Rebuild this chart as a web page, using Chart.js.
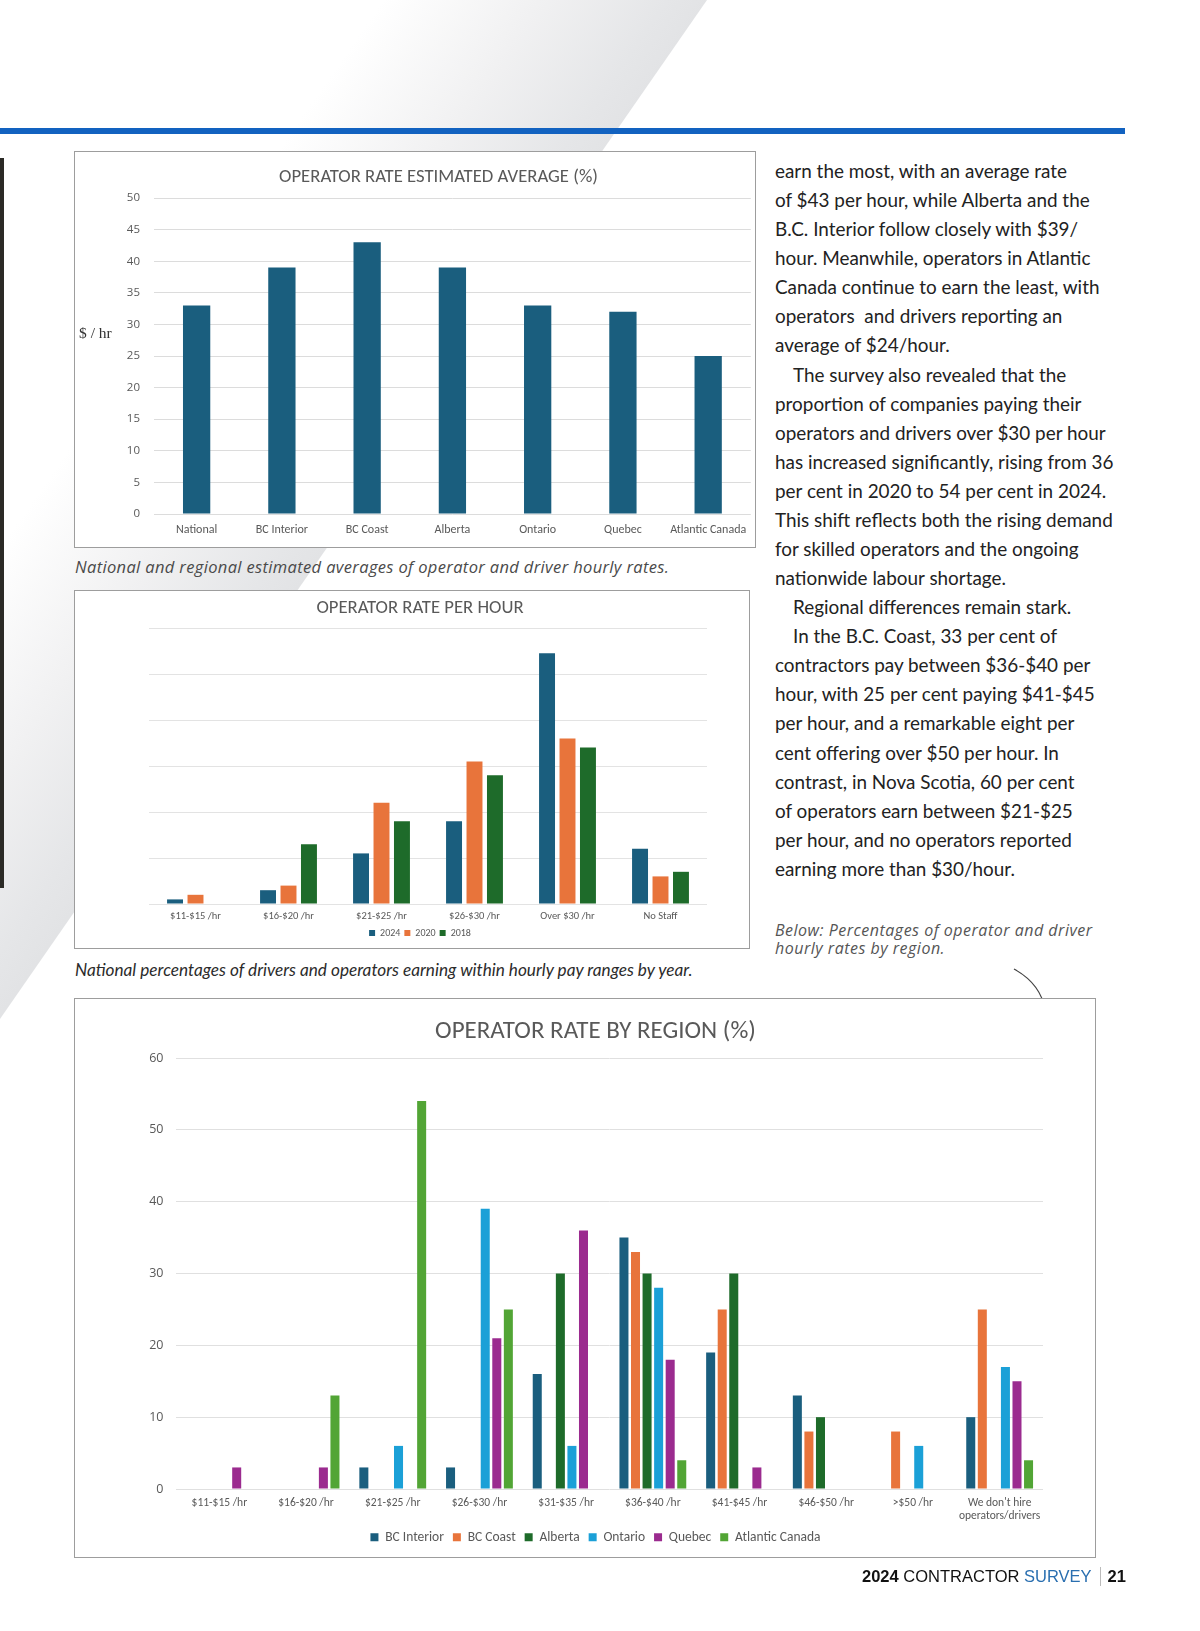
<!DOCTYPE html>
<html>
<head>
<meta charset="utf-8">
<title>2024 Contractor Survey - operator rates</title>
<script src="https://cdn.jsdelivr.net/npm/chart.js@4.4.1/dist/chart.umd.min.js"></script>
<style>
  html, body { margin: 0; padding: 0; }
  body { width: 1200px; height: 1631px; position: relative; overflow: hidden; background: #fff; font-family: Lato, 'Open Sans', sans-serif; }
  .band {
    position: absolute; left: 0; top: 0; width: 707px; height: 1019px;
    clip-path: polygon(0 0, 707px 0, 0 1019px);
    background: linear-gradient(125deg, #ffffff 0%, #ffffff 27%, #f1f1f2 38%, #e5e6e8 47%, #e2e3e5 50%);
  }
  .strip { position: absolute; left: 0; top: 158px; width: 4px; height: 730px; background: #2b2a26; }
  .rule { position: absolute; left: 0; top: 128px; width: 1125px; height: 6px; background: #1262c0; }
  .box { position: absolute; border: 1px solid #9d9d9d; background: #fff; box-sizing: border-box; }
  .box canvas { display: block; }
  #box1 { left: 74px; top: 151px; width: 682px; height: 397px; }
  #box2 { left: 74px; top: 590px; width: 676px; height: 359px; }
  #box3 { left: 74px; top: 998px; width: 1022px; height: 560px; }
  .unit { position: absolute; left: 79px; top: 324px; font-family: 'Liberation Serif', 'DejaVu Serif', serif; font-size: 15.5px; color: #333; }
  .cap { position: absolute; left: 75px; white-space: nowrap; font-style: italic; }
  .cap1 { top: 555px; font-family: 'Open Sans', sans-serif; font-size: 16.5px; letter-spacing: 0.35px; color: #4a4a4a; }
  .cap2 { top: 959px; font-family: Lato, sans-serif; font-size: 17.2px; color: #2b2b2b; }
  .col { position: absolute; left: 775px; top: 156px; font-size: 18.9px; line-height: 29.08px; color: #222; white-space: nowrap; }
  .col .ind { padding-left: 18px; }
  .below { position: absolute; left: 775px; top: 921px; font-family: 'Open Sans', sans-serif; font-style: italic; font-size: 16px; letter-spacing: 0.5px; line-height: 18px; color: #555; white-space: nowrap; }
  .arrow { position: absolute; left: 0; top: 0; }
  .foot { position: absolute; left: 862px; top: 1567px; font-family: 'Liberation Sans', Arial, sans-serif; font-size: 16.5px; color: #111; white-space: nowrap; }
  .foot b { font-weight: 700; }
  .foot .blue { color: #2a6fb0; }
  .foot .sep { display: inline-block; width: 1px; height: 19px; background: #bbb; vertical-align: -4px; margin: 0 7px 0 8px; }
</style>
</head>
<body>
<div class="band"></div>
<div class="strip"></div>
<div class="rule"></div>

<div class="box" id="box1"><canvas id="avgChart" width="680" height="395"></canvas></div>
<div class="unit">$ / hr</div>
<div class="cap cap1">National and regional estimated averages of operator and driver hourly rates.</div>

<div class="box" id="box2"><canvas id="yearChart" width="674" height="357"></canvas></div>
<div class="cap cap2">National percentages of drivers and operators earning within hourly pay ranges by year.</div>

<div class="col">
  earn the most, with an average rate<br>
  of $43 per hour, while Alberta and the<br>
  B.C. Interior follow closely with $39/<br>
  hour. Meanwhile, operators in Atlantic<br>
  Canada continue to earn the least, with<br>
  operators&nbsp; and drivers reporting an<br>
  average of $24/hour.<br>
  <span class="ind">The survey also revealed that the</span><br>
  proportion of companies paying their<br>
  operators and drivers over $30 per hour<br>
  has increased significantly, rising from 36<br>
  per cent in 2020 to 54 per cent in 2024.<br>
  This shift reflects both the rising demand<br>
  for skilled operators and the ongoing<br>
  nationwide labour shortage.<br>
  <span class="ind">Regional differences remain stark.</span><br>
  <span class="ind">In the B.C. Coast, 33 per cent of</span><br>
  contractors pay between $36-$40 per<br>
  hour, with 25 per cent paying $41-$45<br>
  per hour, and a remarkable eight per<br>
  cent offering over $50 per hour. In<br>
  contrast, in Nova Scotia, 60 per cent<br>
  of operators earn between $21-$25<br>
  per hour, and no operators reported<br>
  earning more than $30/hour.
</div>
<div class="below">Below: Percentages of operator and driver<br>hourly rates by region.</div>
<svg class="arrow" width="1200" height="1631"><path d="M1014 969 Q1041 984 1045 1010" fill="none" stroke="#444" stroke-width="1.2"/></svg>

<div class="box" id="box3"><canvas id="regionChart" width="1020" height="558"></canvas></div>

<div class="foot"><b>2024</b> CONTRACTOR <span class="blue">SURVEY</span><span class="sep"></span><b>21</b></div>

<script>
// chart 1 - estimated average rate by region
const avgRegions = ['National', 'BC Interior', 'BC Coast', 'Alberta', 'Ontario', 'Quebec', 'Atlantic Canada'];
const avgRates = [33, 39, 43, 39, 33, 32, 25];

// chart 2 - national share by pay range and year
const payRanges = ['$11-$15 /hr', '$16-$20 /hr', '$21-$25 /hr', '$26-$30 /hr', 'Over $30 /hr', 'No Staff'];
const share2024 = [1, 3, 11, 18, 54.5, 12];
const share2020 = [2, 4, 22, 31, 36, 6];
const share2018 = [0, 13, 18, 28, 34, 7];

// chart 3 - share by region and pay range
const regionRanges = ['$11-$15 /hr', '$16-$20 /hr', '$21-$25 /hr', '$26-$30 /hr', '$31-$35 /hr',
  '$36-$40 /hr', '$41-$45 /hr', '$46-$50 /hr', '>$50 /hr', ["We don't hire", 'operators/drivers']];
const bcInterior = [0, 0, 3, 3, 16, 35, 19, 13, 0, 10];
const bcCoast = [0, 0, 0, 0, 0, 33, 25, 8, 8, 25];
const alberta = [0, 0, 0, 0, 30, 30, 30, 10, 0, 0];
const ontario = [0, 0, 6, 39, 6, 28, 0, 0, 6, 17];
const quebec = [3, 3, 0, 21, 36, 18, 3, 0, 0, 15];
const atlantic = [0, 13, 54, 25, 0, 4, 0, 0, 0, 4];

const CHART_FONT = "Carlito, 'Liberation Sans Narrow', 'Open Sans', sans-serif";
const NUM_FONT = "'Open Sans', sans-serif";
const TEAL = '#1a5e7e', ORANGE = '#e8743b', DKGREEN = '#1e6b2a';
const SKY = '#1ba0d7', PURPLE = '#9b2b8f', GREEN = '#52a535';

Chart.defaults.font.family = CHART_FONT;
Chart.defaults.color = '#595959';
Chart.defaults.animation = false;

new Chart(document.getElementById('avgChart'), {
  type: 'bar',
  data: {
    labels: avgRegions,
    datasets: [{ data: avgRates, backgroundColor: TEAL, categoryPercentage: 0.8, barPercentage: 0.4 }]
  },
  options: {
    responsive: false,
    layout: { padding: { left: 51, right: 4, top: 0, bottom: 10 } },
    plugins: {
      legend: { display: false },
      tooltip: { enabled: false },
      title: { display: true, text: 'OPERATOR RATE ESTIMATED AVERAGE (%)', color: '#595959',
        font: { size: 18.7, weight: 'normal' }, padding: { top: 13.8, bottom: 9.8 } }
    },
    scales: {
      x: {
        grid: { display: false, drawTicks: false }, border: { display: false },
        ticks: { font: { size: 12 }, padding: 8.5 },
        afterFit: s => { s.height = 23; }
      },
      y: {
        min: 0, max: 50,
        grid: { color: '#dcdcdc', drawTicks: false }, border: { display: false },
        ticks: { stepSize: 5, font: { size: 11.5, family: NUM_FONT }, padding: 14 },
        afterFit: s => { s.width = 28; }
      }
    }
  }
});

new Chart(document.getElementById('yearChart'), {
  type: 'bar',
  data: {
    labels: payRanges,
    datasets: [
      { label: '2024', data: share2024, backgroundColor: TEAL },
      { label: '2020', data: share2020, backgroundColor: ORANGE },
      { label: '2018', data: share2018, backgroundColor: DKGREEN }
    ]
  },
  options: {
    responsive: false,
    datasets: { bar: { categoryPercentage: 0.66, barPercentage: 0.78 } },
    layout: { padding: { left: 58, right: 42, top: 0, bottom: 0 } },
    plugins: {
      tooltip: { enabled: false },
      title: { display: true, text: 'OPERATOR RATE PER HOUR', color: '#595959',
        font: { size: 18.7, weight: 'normal' }, padding: { top: 5.8, bottom: 8.8 } },
      legend: { position: 'bottom', labels: { boxWidth: 6, boxHeight: 6, padding: 4, font: { size: 10 } } }
    },
    scales: {
      x: {
        grid: { display: false, drawTicks: false }, border: { display: false },
        ticks: { font: { size: 10.5 }, padding: 6 },
        afterFit: s => { s.height = 20; }
      },
      y: {
        min: 0, max: 60,
        grid: { color: '#e3e3e3', drawTicks: false }, border: { display: false },
        ticks: { stepSize: 10, display: false },
        afterFit: s => { s.width = 16; }
      }
    }
  }
});

new Chart(document.getElementById('regionChart'), {
  type: 'bar',
  data: {
    labels: regionRanges,
    datasets: [
      { label: 'BC Interior', data: bcInterior, backgroundColor: TEAL },
      { label: 'BC Coast', data: bcCoast, backgroundColor: ORANGE },
      { label: 'Alberta', data: alberta, backgroundColor: DKGREEN },
      { label: 'Ontario', data: ontario, backgroundColor: SKY },
      { label: 'Quebec', data: quebec, backgroundColor: PURPLE },
      { label: 'Atlantic Canada', data: atlantic, backgroundColor: GREEN }
    ]
  },
  options: {
    responsive: false,
    datasets: { bar: { categoryPercentage: 0.8, barPercentage: 0.78 } },
    layout: { padding: { left: 73, right: 52, top: 0, bottom: 3 } },
    plugins: {
      tooltip: { enabled: false },
      title: { display: true, text: 'OPERATOR RATE BY REGION (%)', color: '#595959',
        font: { size: 25, weight: 'normal' }, padding: { top: 18, bottom: 11 } },
      legend: { position: 'bottom', labels: { boxWidth: 8, boxHeight: 8, padding: 9, font: { size: 13.5 } } }
    },
    scales: {
      x: {
        grid: { display: false, drawTicks: false }, border: { display: false },
        ticks: { font: { size: 11.5, lineHeight: 1.15 }, padding: 7.5, maxRotation: 0, autoSkip: false },
        afterFit: s => { s.height = 32.5; }
      },
      y: {
        min: 0, max: 60,
        grid: { color: '#e0e0e0', drawTicks: false }, border: { display: false },
        ticks: { stepSize: 10, font: { size: 12.5, family: NUM_FONT }, padding: 12.5 },
        afterFit: s => { s.width = 28; }
      }
    }
  }
});
</script>
</body>
</html>
